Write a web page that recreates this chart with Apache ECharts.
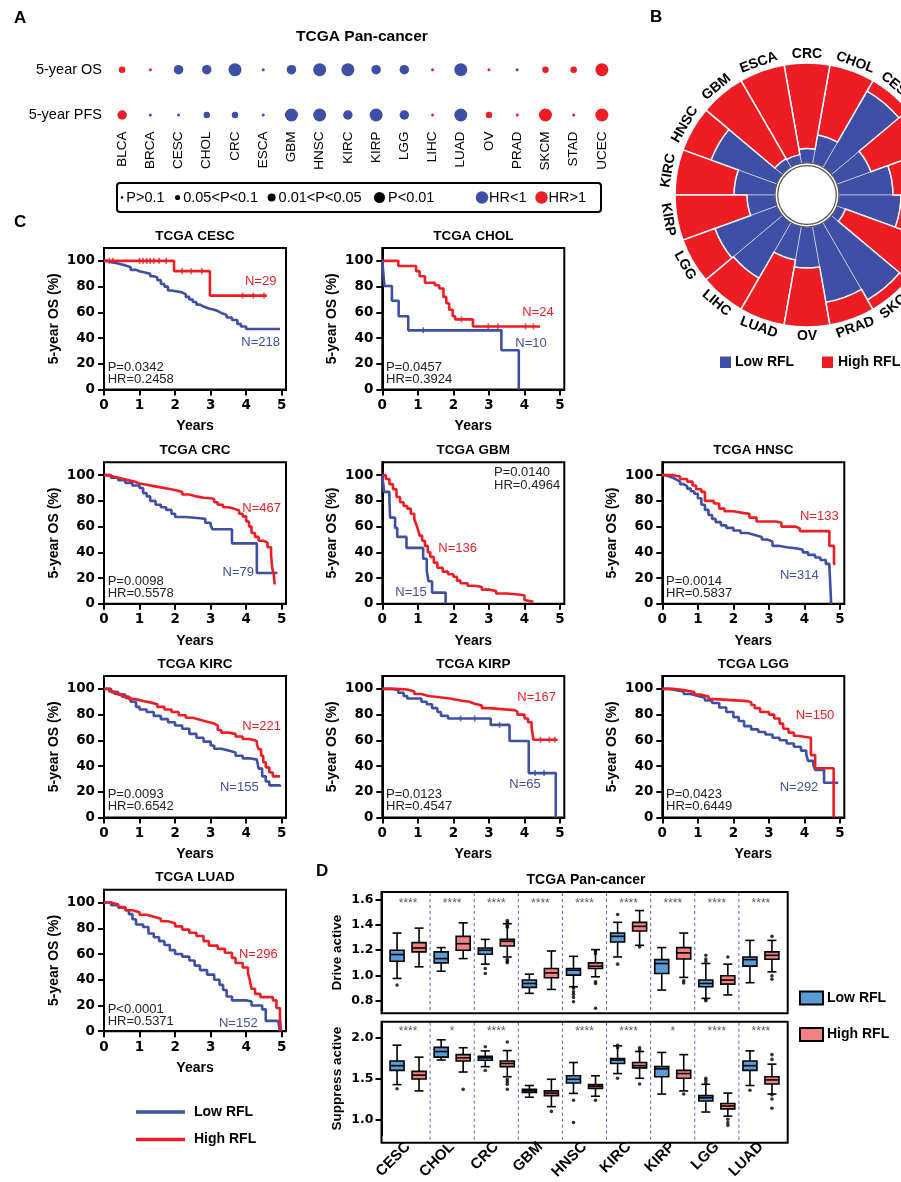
<!DOCTYPE html>
<html><head><meta charset="utf-8">
<script src="https://cdn.jsdelivr.net/npm/echarts@6/dist/echarts.min.js"></script>
<style>html,body{margin:0;padding:0;background:#fff}#c{width:901px;height:1182px}</style>
</head><body><div id="c"></div>
<script>
// ================= DATA =================
// Panel A
const panCancers = ['BLCA','BRCA','CESC','CHOL','CRC','ESCA','GBM','HNSC','KIRC','KIRP','LGG','LIHC','LUAD','OV','PRAD','SKCM','STAD','UCEC'];
const survivalRows = ['5-year PFS','5-year OS'];
// P level: 1 P>0.1, 2 0.05<P<0.1, 3 0.01<P<0.05, 4 P<0.01 ; HR flag: 1 = HR>1, 0 = HR<1
const osPLevel  = [2,1,3,3,4,1,3,4,4,3,3,1,4,1,1,2,2,4];
const osHRHigh  = [1,1,0,0,0,0,0,0,0,0,0,1,0,1,0,1,1,1];
const pfsPLevel = [3,1,1,2,2,1,4,4,3,4,3,1,4,2,1,4,1,4];
const pfsHRHigh = [1,0,0,0,0,0,0,0,0,0,0,1,0,1,1,1,1,1];
const pLevelLabels = ['P>0.1','0.05<P<0.1','0.01<P<0.05','P<0.01'];
const hrLabels = ['HR<1','HR>1'];

// Panel B (share of patients)
const lowRflShare  = [0.54,0.36,0.88,0.29,0.145,0.09,0.10,0.70,0.41,0.28,0.66,0.64,0.34,0.41,0.77,0.89,0.09,0.62];
const highRflShare = [0.46,0.64,0.12,0.71,0.855,0.91,0.90,0.30,0.59,0.72,0.34,0.36,0.66,0.59,0.23,0.11,0.91,0.38];
const groupNames = ['Low RFL','High RFL'];

// Panel C (Kaplan-Meier, [years, survival %])
const kmCancers = ['CESC','CHOL','CRC','GBM','HNSC','KIRC','KIRP','LGG','LUAD'];
const kmLowN  = [218,10,79,15,314,155,65,292,152];
const kmHighN = [29,24,467,136,133,221,167,150,296];
const kmPText  = ['P=0.0342','P=0.0457','P=0.0098','P=0.0140','P=0.0014','P=0.0093','P=0.0123','P=0.0423','P<0.0001'];
const kmHRText = ['HR=0.2458','HR=0.3924','HR=0.5578','HR=0.4964','HR=0.5837','HR=0.6542','HR=0.4547','HR=0.6449','HR=0.5371'];
const kmYTicks = [0,20,40,60,80,100];
const kmXTicks = [0,1,2,3,4,5];

const osLowCESC = [[0,100],[0.1,99],[0.2,98.5],[0.3,97.5],[0.45,96.5],[0.6,95],[0.75,93],[0.9,92],[1.0,91],[1.15,90],[1.3,88],[1.4,87],[1.5,85],[1.6,82],[1.7,80],[1.8,77],[1.9,76],[2.1,75.5],[2.2,74],[2.3,72],[2.4,70],[2.5,68],[2.6,66],[2.7,64.5],[2.8,63],[2.95,62],[3.1,61],[3.2,59.5],[3.3,58],[3.45,56],[3.6,54],[3.75,51],[3.85,49],[4.0,47],[4.95,47]];
const osHighCESC = [[0,100],[1.97,92],[2.98,73],[4.58,73]];
const osLowCHOL = [[0,100],[0.03,90],[0.06,80.5],[0.27,69],[0.46,57],[0.73,46],[3.35,30.5],[3.84,0]];
const osHighCHOL = [[0,100],[0.45,96],[0.95,92],[1.05,88],[1.2,83],[1.48,81],[1.6,78.5],[1.72,72],[1.8,67],[1.88,62],[1.98,57],[2.05,54.5],[2.55,49],[4.44,49]];
const osLowCRC = [[0,100],[0.2,98],[0.4,96],[0.6,94],[0.8,92],[1.0,90],[1.1,86],[1.2,83.5],[1.3,80],[1.45,77],[1.6,75],[1.75,73],[1.9,70],[2.0,67.5],[2.3,66.5],[2.7,66],[2.85,63],[3.0,61],[3.05,58],[3.6,47],[4.3,24],[4.88,24]];
const osHighCRC = [[0,100],[0.1,99],[0.25,98],[0.4,97],[0.55,96],[0.7,95],[0.85,93.5],[1.0,92.5],[1.2,91.5],[1.4,90.5],[1.6,89.5],[1.8,88.5],[2.0,87],[2.2,85],[2.4,83.5],[2.6,82.5],[2.8,82],[3.0,81.5],[3.1,79],[3.2,77],[3.35,75],[3.5,74],[3.65,72.5],[3.8,70],[3.9,68],[4.0,64],[4.08,60],[4.15,55],[4.25,52],[4.35,49],[4.5,47.5],[4.6,44],[4.7,38],[4.73,28],[4.78,22],[4.8,15]];
const osLowGBM = [[0,100],[0.05,87],[0.2,80],[0.22,67],[0.36,59],[0.42,52],[0.68,43.5],[1.15,35],[1.25,26],[1.3,17.5],[1.4,8.7],[1.78,0]];
const osHighGBM = [[0,100],[0.1,97],[0.2,93],[0.3,89],[0.4,83],[0.5,79],[0.6,76],[0.7,74],[0.8,70],[0.9,66],[0.95,62],[1.0,58],[1.05,53],[1.12,49],[1.2,45],[1.28,40],[1.35,36.5],[1.45,32],[1.55,28],[1.7,25],[1.85,23],[2.0,21],[2.1,18],[2.2,16],[2.4,14],[2.6,13],[2.8,11],[3.0,10],[3.2,8],[3.5,7],[3.9,6.5],[4.0,3],[4.05,1.5],[4.25,1.5]];
const osLowHNSC = [[0,100],[0.1,99],[0.2,98],[0.3,96.5],[0.4,95],[0.5,93],[0.6,91.5],[0.7,89.5],[0.8,87.5],[0.9,85.5],[1.0,82],[1.1,77],[1.2,73],[1.3,69],[1.4,66],[1.5,63.5],[1.65,61],[1.8,59],[2.0,57],[2.2,55],[2.4,53.5],[2.6,52],[2.8,50],[2.95,48.5],[3.1,45],[3.3,44],[3.5,43],[3.8,42],[3.95,40],[4.1,38],[4.3,36],[4.45,34],[4.6,31],[4.7,28.5],[4.72,18],[4.75,0]];
const osHighHNSC = [[0,100],[0.3,99],[0.5,97],[0.7,95],[0.85,92],[0.95,89],[1.1,87],[1.2,80],[1.45,78],[1.6,74],[1.75,72],[2.0,70.5],[2.3,70],[2.45,67],[2.65,64],[3.2,63],[3.35,60],[3.75,58.5],[3.87,56.5],[4.7,45],[4.83,31],[4.87,31]];
const osLowKIRC = [[0,100],[0.2,97.5],[0.4,95.5],[0.6,93],[0.75,90],[0.9,86],[1.0,84],[1.2,82],[1.4,79],[1.6,76.5],[1.8,74],[2.0,71.5],[2.2,69],[2.4,65],[2.6,62],[2.8,59],[3.0,56],[3.1,53.5],[3.3,52],[3.5,50.5],[3.7,48],[3.9,46],[4.1,45],[4.3,44],[4.35,38],[4.45,32],[4.55,28],[4.65,25],[4.95,24]];
const osHighKIRC = [[0,100],[0.15,98],[0.3,96],[0.5,94],[0.7,92],[0.9,90.5],[1.1,89.5],[1.3,88],[1.5,86],[1.7,84],[1.9,82],[2.1,79.5],[2.3,77.5],[2.5,76],[2.7,74.5],[2.9,73],[3.1,71.5],[3.2,68],[3.3,66],[3.5,65],[3.7,63],[3.9,61],[4.1,59.5],[4.3,57],[4.35,53],[4.42,48],[4.48,43],[4.55,39],[4.65,35],[4.75,32],[4.95,32]];
const osLowKIRP = [[0,100],[0.3,99],[0.45,97],[0.6,94.5],[0.7,92.5],[1.1,90],[1.25,88],[1.4,85],[1.55,82],[1.65,79],[1.85,77],[3.05,72],[3.58,59.5],[4.12,34.5],[4.88,0]];
const osHighKIRP = [[0,100],[0.4,99.5],[0.7,98],[0.9,96],[1.1,94.5],[1.3,93.5],[1.6,92.5],[1.9,91],[2.2,90],[2.45,88.5],[2.6,87],[2.8,85],[3.0,83.5],[3.7,82.5],[3.8,80],[4.0,77],[4.1,74],[4.2,70],[4.25,60.5],[4.93,60.5]];
const osLowLGG = [[0,100],[0.2,99],[0.4,98],[0.6,96],[0.8,94.5],[1.0,93],[1.2,91],[1.4,89],[1.6,85.5],[1.8,82],[2.0,78],[2.15,75],[2.3,71],[2.5,68.5],[2.7,66.5],[2.9,64.5],[3.1,62],[3.3,60],[3.5,57.5],[3.7,55],[3.9,52],[4.05,49],[4.1,44],[4.25,41],[4.3,37],[4.55,27],[4.95,27]];
const osHighLGG = [[0,100],[0.3,99],[0.6,97.5],[0.9,95.5],[1.1,94],[1.3,92],[1.5,90.5],[2.4,89.5],[2.5,87.5],[2.6,85],[2.75,82],[3.0,80],[3.15,77],[3.3,73],[3.4,69],[3.55,66],[3.7,63.5],[3.8,62],[4.18,48.5],[4.3,38.3],[4.82,0]];
const osLowLUAD = [[0,100],[0.2,98],[0.4,96],[0.6,94],[0.7,91],[0.8,87],[0.9,83],[1.1,81],[1.25,76],[1.4,73],[1.55,70],[1.7,67],[1.85,63],[2.0,60],[2.2,58],[2.4,55],[2.55,51],[2.7,47.5],[2.9,44],[3.1,40],[3.25,36],[3.35,32],[3.45,27],[3.6,24],[4.0,23],[4.15,20],[4.45,17],[4.55,8],[4.9,6.5],[4.95,0]];
const osHighLUAD = [[0,100],[0.2,98.5],[0.4,96.5],[0.6,94],[0.8,92.5],[1.0,90.5],[1.2,89],[1.4,87.5],[1.6,85.5],[1.8,84],[2.0,81.5],[2.2,79],[2.4,76.5],[2.6,74],[2.8,70],[2.95,66.5],[3.2,64],[3.4,61],[3.6,57],[3.7,53],[3.9,49.5],[4.05,45],[4.1,40],[4.15,33],[4.25,29],[4.4,26.5],[4.75,24],[4.85,18],[4.95,10],[4.98,0]];
const kmLowCurves  = [osLowCESC, osLowCHOL, osLowCRC, osLowGBM, osLowHNSC, osLowKIRC, osLowKIRP, osLowLGG, osLowLUAD];
const kmHighCurves = [osHighCESC, osHighCHOL, osHighCRC, osHighGBM, osHighHNSC, osHighKIRC, osHighKIRP, osHighLGG, osHighLUAD];
// censored observations (tick marks) on the sparse curves
const censorHighCESC = [[0.15,100],[0.25,100],[1.0,100],[1.1,100],[1.2,100],[1.3,100],[1.4,100],[1.55,100],[1.75,100],[2.2,92],[2.45,92],[2.75,92],[3.9,73],[4.2,73],[4.5,73]];
const censorHighCHOL = [[2.23,54.5],[2.98,49],[3.25,49],[4.03,49],[4.25,49]];
const censorLowCHOL = [[1.15,46]];
const censorHighKIRP = [[4.45,60.5],[4.7,60.5],[4.85,60.5]];
const censorLowKIRP = [[2.2,77],[2.6,77],[3.3,72],[4.3,34.5],[4.55,34.5]];
const kmLowCensor  = [[], censorLowCHOL, [], [], [], [], censorLowKIRP, [], []];
const kmHighCensor = [censorHighCESC, censorHighCHOL, [], [], [], [], censorHighKIRP, [], []];

// Panel D (box: [min, Q1, median, Q3, max])
const boxCancers = ['CESC','CHOL','CRC','GBM','HNSC','KIRC','KIRP','LGG','LUAD'];
const driveLow = [[0.976,1.112,1.165,1.199,1.335],[1.033,1.099,1.133,1.186,1.22],[1.089,1.167,1.199,1.217,1.285],[0.858,0.905,0.936,0.963,1.01],[0.91,1.002,1.041,1.054,1.151],[1.146,1.264,1.309,1.335,1.42],[0.884,1.015,1.094,1.125,1.22],[0.818,0.91,0.936,0.963,1.094],[0.942,1.073,1.125,1.146,1.277]];
const driveHigh = [[1.068,1.186,1.217,1.259,1.374],[1.133,1.199,1.251,1.309,1.416],[1.146,1.233,1.27,1.285,1.409],[0.889,0.981,1.02,1.054,1.193],[0.989,1.054,1.073,1.099,1.204],[1.238,1.351,1.388,1.42,1.513],[0.984,1.13,1.178,1.22,1.335],[0.845,0.931,0.963,0.997,1.089],[1.028,1.128,1.159,1.186,1.277]];
const suppressLow = [[1.426,1.601,1.659,1.717,1.911],[1.729,1.764,1.833,1.884,1.977],[1.647,1.725,1.756,1.775,1.841],[1.271,1.329,1.349,1.368,1.415],[1.318,1.446,1.492,1.535,1.698],[1.562,1.686,1.729,1.748,1.903],[1.31,1.523,1.62,1.647,1.822],[1.089,1.225,1.264,1.291,1.43],[1.415,1.601,1.659,1.717,1.841]];
const suppressHigh = [[1.349,1.496,1.543,1.589,1.764],[1.581,1.717,1.756,1.795,1.88],[1.523,1.647,1.686,1.717,1.845],[1.155,1.291,1.322,1.349,1.492],[1.283,1.38,1.407,1.426,1.535],[1.504,1.632,1.659,1.698,1.833],[1.349,1.504,1.562,1.601,1.795],[1.039,1.128,1.163,1.194,1.322],[1.31,1.434,1.484,1.523,1.678]];
const driveLowOut = [[0,0.923],[2,1.054],[2,1.015],[4,0.897],[4,0.87],[4,0.85],[4,0.826],[4,0.792],[5,1.482],[5,1.089],[7,1.159],[7,1.13],[7,1.11],[7,0.81],[7,0.8]];
const driveHighOut = [[2,1.435],[2,1.42],[2,1.395],[2,1.382],[2,1.128],[2,1.112],[2,1.1],[4,1.193],[4,1.172],[4,0.95],[4,0.936],[4,0.74],[5,1.225],[6,0.957],[6,0.94],[7,1.146],[8,1.309],[8,0.996],[8,0.97]];
const suppressLowOut = [[0,1.376],[2,1.891],[2,1.6],[4,1.233],[4,0.961],[5,1.91],[5,1.88],[5,1.504],[7,1.504],[7,1.48],[7,1.45],[8,1.357]];
const suppressHighOut = [[1,1.368],[2,1.95],[2,1.49],[2,1.46],[2,1.43],[2,1.37],[3,1.097],[4,1.233],[5,1.88],[5,1.85],[5,1.434],[6,1.31],[7,1.0],[7,0.96],[7,0.925],[8,1.795],[8,1.736],[8,1.3],[8,1.25],[8,1.136]];
const driveStars = ['****','****','****','****','****','****','****','****','****'];
const suppressStars = ['****','*','****','','****','****','*','****','****'];
const driveTicks = [0.8,1.0,1.2,1.4,1.6];
const suppressTicks = [1.0,1.5,2.0];

// ================= STYLE / LAYOUT =================
const FONT = '"Liberation Sans", Arial, Helvetica, sans-serif';
const DJ = '"DejaVu Sans", Verdana, sans-serif';
const BLUE = '#3F4FA6', RED = '#EE1D24';
const BOX_LOW = '#5B9BD8', BOX_HIGH = '#F08283';
const dotSizes = [3, 6.5, 9.5, 13];

const KM_W = 182, KM_H = 141.5;
const kmBox = [[104,248],[382.3,248],[104,462.3],[382.3,462.3],[662.3,462.3],[104,676],[382.3,676],[662.3,676],[104,889.7]];
const kmNHighPos = [[260.7,281.7],[538,312],[261.7,508.3],[457.7,548.3],[819.3,516],[261.7,726.7],[536.7,697.7],[815,715],[258.3,954.3]];
const kmNLowPos  = [[260.7,342.7],[531,343],[238.3,572.7],[411,592.3],[799.3,575],[239.3,787.7],[525,784.3],[799,787.7],[238.3,1023.3]];
const kmPPos = [[107.7,367],[386,367],[107.7,581],[494,472.5],[666,581],[107.7,794],[386,794],[666,794],[107.7,1009]];

const grids = [], xAxes = [], yAxes = [], series = [], G = [];

function txt(x, y, s, o) {
  o = o || {};
  const font = (o.bold ? 'bold ' : '') + (o.size || 13) + 'px ' + (o.family || FONT);
  return { type: 'text', x: x, y: y, rotation: o.rot || 0, z: 100, silent: true,
    style: { text: s, fill: o.color || '#000', font: font,
      textAlign: o.align || 'left', align: o.align || 'left',
      textVerticalAlign: 'middle', verticalAlign: 'middle' } };
}

// ---------- Panel A ----------
grids.push({ left: 108, top: 69.7, width: 508, height: 45.3 });
xAxes.push({ gridIndex: 0, type: 'category', data: panCancers, boundaryGap: true,
  axisLine: { show: false }, axisTick: { show: false }, splitLine: { show: false },
  axisLabel: { rotate: 90, margin: 16.5, fontSize: 13.5, color: '#000', fontFamily: FONT, interval: 0 } });
yAxes.push({ gridIndex: 0, type: 'category', data: survivalRows, boundaryGap: false,
  axisLine: { show: false }, axisTick: { show: false }, splitLine: { show: false },
  axisLabel: { margin: 6, fontSize: 14.5, color: '#000', fontFamily: FONT } });
const dotData = [];
panCancers.forEach((c, i) => {
  dotData.push([i, 0, pfsPLevel[i], pfsHRHigh[i]]);
  dotData.push([i, 1, osPLevel[i], osHRHigh[i]]);
});
series.push({ type: 'scatter', xAxisIndex: 0, yAxisIndex: 0, data: dotData,
  symbolSize: v => dotSizes[v[2] - 1],
  itemStyle: { color: p => (p.data[3] ? RED : BLUE), opacity: 1 } });

G.push(txt(14, 18, 'A', { bold: true, size: 17 }));
G.push(txt(362, 37, 'TCGA Pan-cancer', { bold: true, size: 15.5, align: 'center' }));
G.push({ type: 'rect', shape: { x: 117, y: 183, width: 484, height: 29, r: 3 }, style: { fill: 'none', stroke: '#000', lineWidth: 2 }, z: 100 });
const legDotX = [122, 177.6, 271.6, 379.5];
const legDotR = [1.3, 2.6, 4, 5.5];
pLevelLabels.forEach((s, i) => {
  G.push({ type: 'circle', shape: { cx: legDotX[i], cy: 197.5, r: legDotR[i] }, style: { fill: '#000' }, z: 100 });
  G.push(txt(legDotX[i] + legDotR[i] + 3, 197.5, s, { size: 14.5 }));
});
[[482, BLUE], [541.5, RED]].forEach((d, i) => {
  G.push({ type: 'circle', shape: { cx: d[0], cy: 197.5, r: 6.2 }, style: { fill: d[1] }, z: 100 });
  G.push(txt(d[0] + 7, 197.5, hrLabels[i], { size: 14.5 }));
});

// ---------- Panel B ----------
const polar = { center: [807, 195], radius: [32, 132] };
const angleAxis = { type: 'category', data: panCancers, startAngle: 0, clockwise: false,
  axisLine: { show: false }, axisTick: { show: false }, axisLabel: { show: false }, splitLine: { show: false } };
const radiusAxis = { type: 'value', min: 0, max: 1,
  axisLine: { show: false }, axisTick: { show: false }, axisLabel: { show: false }, splitLine: { show: false } };
series.push({ type: 'bar', coordinateSystem: 'polar', stack: 'rfl', data: lowRflShare, barCategoryGap: '0%',
  itemStyle: { color: BLUE, borderColor: 'rgba(255,255,255,0.6)', borderWidth: 0.8 } });
series.push({ type: 'bar', coordinateSystem: 'polar', stack: 'rfl', data: highRflShare, barCategoryGap: '0%',
  itemStyle: { color: RED, borderColor: '#fff', borderWidth: 1.5 } });
series.push({ type: 'custom', coordinateSystem: 'polar', clip: false, silent: true,
  data: panCancers.map((c, i) => [1.09, i]),
  renderItem: function (params, api) {
    const pt = api.coord([api.value(0), api.value(1)]);
    const cx = params.coordSys.cx, cy = params.coordSys.cy;
    let th = Math.atan2(cy - pt[1], pt[0] - cx) * 180 / Math.PI;
    if (th < 0) th += 360;
    const rot = (th > 0 && th < 180) ? th - 90 : th + 90;
    return { type: 'text', x: pt[0], y: pt[1], rotation: rot * Math.PI / 180,
      style: { text: panCancers[params.dataIndex], fill: '#000', font: 'bold 14px ' + FONT,
        textAlign: 'center', align: 'center', textVerticalAlign: 'middle', verticalAlign: 'middle' } };
  } });
G.push({ type: 'circle', shape: { cx: 807, cy: 195, r: 32 }, style: { fill: '#fff', stroke: '#555', lineWidth: 1.2 }, z: 90 });
G.push({ type: 'circle', shape: { cx: 807, cy: 195, r: 29.3 }, style: { fill: 'none', stroke: '#555', lineWidth: 1.2 }, z: 90 });
G.push(txt(650, 17, 'B', { bold: true, size: 17 }));
G.push({ type: 'rect', shape: { x: 720, y: 356.5, width: 11, height: 11.5 }, style: { fill: BLUE }, z: 100 });
G.push(txt(735, 362.5, groupNames[0], { bold: true, size: 14 }));
G.push({ type: 'rect', shape: { x: 822, y: 356.5, width: 11, height: 11.5 }, style: { fill: RED }, z: 100 });
G.push(txt(838, 362.5, groupNames[1], { bold: true, size: 14 }));

// ---------- Panel C ----------
G.push(txt(14, 222, 'C', { bold: true, size: 17 }));
kmCancers.forEach((c, k) => {
  const gi = 1 + k;
  const b = kmBox[k];
  grids.push({ left: b[0], top: b[1], width: KM_W, height: KM_H, show: true, borderColor: '#000', borderWidth: 2, backgroundColor: 'transparent' });
  xAxes.push({ gridIndex: gi, type: 'value', min: 0, max: 5.12, interval: 1,
    axisLine: { show: true, onZero: false, lineStyle: { color: '#000', width: 2 } },
    axisTick: { show: true, length: 6, lineStyle: { color: '#000', width: 2 }, customValues: kmXTicks },
    axisLabel: { customValues: kmXTicks, fontSize: 13.5, fontWeight: 'bold', color: '#000', fontFamily: DJ, margin: 9 },
    splitLine: { show: false },
    name: 'Years', nameLocation: 'middle', nameGap: 30,
    nameTextStyle: { fontSize: 14, fontWeight: 'bold', color: '#000', fontFamily: FONT } });
  yAxes.push({ gridIndex: gi, type: 'value', min: 0, max: 110, interval: 20,
    axisLine: { show: true, onZero: false, lineStyle: { color: '#000', width: 2 } },
    axisTick: { show: true, length: 6, lineStyle: { color: '#000', width: 2 }, customValues: kmYTicks },
    axisLabel: { customValues: kmYTicks, fontSize: 13.5, fontWeight: 'bold', color: '#000', fontFamily: DJ, margin: 9 },
    splitLine: { show: false },
    name: '5-year OS (%)', nameLocation: 'middle', nameGap: 43, nameRotate: 90,
    nameTextStyle: { fontSize: 14, fontWeight: 'bold', color: '#000', fontFamily: FONT } });
  series.push({ type: 'line', xAxisIndex: gi, yAxisIndex: gi, data: kmLowCurves[k], step: 'end',
    symbol: 'none', lineStyle: { color: BLUE, width: 2.6 }, z: 3 });
  series.push({ type: 'line', xAxisIndex: gi, yAxisIndex: gi, data: kmHighCurves[k], step: 'end',
    symbol: 'none', lineStyle: { color: RED, width: 2.6 }, z: 4 });
  if (kmLowCensor[k].length) series.push({ type: 'scatter', xAxisIndex: gi, yAxisIndex: gi, data: kmLowCensor[k],
    symbol: 'rect', symbolSize: [1.6, 6], itemStyle: { color: BLUE }, z: 3 });
  if (kmHighCensor[k].length) series.push({ type: 'scatter', xAxisIndex: gi, yAxisIndex: gi, data: kmHighCensor[k],
    symbol: 'rect', symbolSize: [1.6, 6], itemStyle: { color: RED }, z: 4 });
  G.push(txt(b[0] + KM_W / 2, b[1] - 12, 'TCGA ' + c, { bold: true, size: 13.5, align: 'center' }));
  G.push(txt(kmNHighPos[k][0], kmNHighPos[k][1], 'N=' + kmHighN[k], { size: 13, color: RED, align: 'center' }));
  G.push(txt(kmNLowPos[k][0], kmNLowPos[k][1], 'N=' + kmLowN[k], { size: 13, color: BLUE, align: 'center' }));
  G.push(txt(kmPPos[k][0], kmPPos[k][1], kmPText[k], { size: 13, color: '#222' }));
  G.push(txt(kmPPos[k][0], kmPPos[k][1] + 12.5, kmHRText[k], { size: 13, color: '#222' }));
});
// KM legend
G.push({ type: 'line', shape: { x1: 136, y1: 1112, x2: 185, y2: 1112 }, style: { stroke: BLUE, lineWidth: 3.5 }, z: 100 });
G.push(txt(194, 1112, groupNames[0], { bold: true, size: 14 }));
G.push({ type: 'line', shape: { x1: 136, y1: 1139.5, x2: 185, y2: 1139.5 }, style: { stroke: RED, lineWidth: 3.5 }, z: 100 });
G.push(txt(194, 1139.5, groupNames[1], { bold: true, size: 14 }));

// ---------- Panel D ----------
const D_LEFT = 386, D_W = 397, FRAME_L = 381.5, FRAME_W = 406.2;
const dPanels = [
  { top: 892, h: 121.3, min: 0.7, max: 1.66, ticks: driveTicks, name: 'Drive active', low: driveLow, high: driveHigh, lowOut: driveLowOut, highOut: driveHighOut, stars: driveStars, starOff: 0.095, labels: false },
  { top: 1021.7, h: 121, min: 0.8, max: 2.2, ticks: suppressTicks, name: 'Suppress active', low: suppressLow, high: suppressHigh, lowOut: suppressLowOut, highOut: suppressHighOut, stars: suppressStars, starOff: 0.125, labels: true }
];
function boxRenderer(offset, fill) {
  return function (params, api) {
    const c = api.value(0);
    const p = [1, 2, 3, 4, 5].map(k => api.coord([c, api.value(k)]));
    const x = p[0][0] + offset, hw = 7, cw = 4.5;
    const ls = { stroke: '#000', lineWidth: 1.6 };
    return { type: 'group', children: [
      { type: 'line', shape: { x1: x, y1: p[4][1], x2: x, y2: p[3][1] }, style: ls },
      { type: 'line', shape: { x1: x, y1: p[1][1], x2: x, y2: p[0][1] }, style: ls },
      { type: 'line', shape: { x1: x - cw, y1: p[4][1], x2: x + cw, y2: p[4][1] }, style: ls },
      { type: 'line', shape: { x1: x - cw, y1: p[0][1], x2: x + cw, y2: p[0][1] }, style: ls },
      { type: 'rect', shape: { x: x - hw, y: p[3][1], width: 2 * hw, height: p[1][1] - p[3][1] }, style: { fill: fill, stroke: '#000', lineWidth: 1.6 } },
      { type: 'line', shape: { x1: x - hw, y1: p[2][1], x2: x + hw, y2: p[2][1] }, style: { stroke: '#000', lineWidth: 1.6 } }
    ] };
  };
}
dPanels.forEach((d, j) => {
  const gi = 10 + j;
  grids.push({ left: D_LEFT, top: d.top, width: D_W, height: d.h });
  xAxes.push({ gridIndex: gi, type: 'category', data: boxCancers, boundaryGap: true,
    axisLine: { show: false }, axisTick: { show: false }, splitLine: { show: false },
    axisLabel: d.labels ? { show: true, rotate: 45, interval: 0, margin: 9, fontSize: 15, fontWeight: 'bold', color: '#000', fontFamily: FONT } : { show: false } });
  yAxes.push({ gridIndex: gi, type: 'value', min: d.min, max: d.max, offset: D_LEFT - FRAME_L,
    axisLine: { show: true, onZero: false, lineStyle: { color: '#000', width: 2 } },
    axisTick: { show: true, length: 6, lineStyle: { color: '#000', width: 2 }, customValues: d.ticks },
    axisLabel: { customValues: d.ticks, formatter: v => v.toFixed(1), fontSize: 12.5, fontWeight: 'bold', color: '#000', fontFamily: DJ, margin: 8 },
    splitLine: { show: false },
    name: d.name, nameLocation: 'middle', nameGap: 37, nameRotate: 90,
    nameTextStyle: { fontSize: 13.5, fontWeight: 'bold', color: '#000', fontFamily: FONT } });
  series.push({ type: 'custom', xAxisIndex: gi, yAxisIndex: gi, renderItem: boxRenderer(-11, BOX_LOW),
    data: d.low.map((v, i) => [i].concat(v)), encode: { x: 0, y: [1, 2, 3, 4, 5] }, z: 3 });
  series.push({ type: 'custom', xAxisIndex: gi, yAxisIndex: gi, renderItem: boxRenderer(11, BOX_HIGH),
    data: d.high.map((v, i) => [i].concat(v)), encode: { x: 0, y: [1, 2, 3, 4, 5] }, z: 3 });
  series.push({ type: 'scatter', xAxisIndex: gi, yAxisIndex: gi, data: d.lowOut, symbolSize: 3.6, symbolOffset: [-11, 0], itemStyle: { color: '#000' }, z: 4 });
  series.push({ type: 'scatter', xAxisIndex: gi, yAxisIndex: gi, data: d.highOut, symbolSize: 3.6, symbolOffset: [11, 0], itemStyle: { color: '#000' }, z: 4 });
  series.push({ type: 'scatter', xAxisIndex: gi, yAxisIndex: gi, symbolSize: 1, itemStyle: { color: 'transparent' },
    data: boxCancers.map((c, i) => [i, d.max - d.starOff]),
    label: { show: true, position: 'inside', formatter: p => d.stars[p.dataIndex], fontSize: 12, color: '#333', fontFamily: FONT }, z: 5 });
  G.push({ type: 'rect', shape: { x: FRAME_L, y: d.top, width: FRAME_W, height: d.h }, style: { fill: 'none', stroke: '#000', lineWidth: 2 }, z: 100 });
  for (let i = 1; i < boxCancers.length; i++) {
    const x = D_LEFT + i * D_W / boxCancers.length;
    G.push({ type: 'line', shape: { x1: x, y1: d.top + 1, x2: x, y2: d.top + d.h - 1 }, style: { stroke: '#5C5CD6', lineWidth: 1, lineDash: [3, 3] }, z: 1 });
  }
});
G.push(txt(316, 871, 'D', { bold: true, size: 17 }));
G.push(txt(586, 880, 'TCGA Pan-cancer', { bold: true, size: 14, align: 'center' }));
G.push({ type: 'rect', shape: { x: 800, y: 991.5, width: 23, height: 13 }, style: { fill: BOX_LOW, stroke: '#000', lineWidth: 2 }, z: 100 });
G.push(txt(827, 998, groupNames[0], { bold: true, size: 14 }));
G.push({ type: 'rect', shape: { x: 800, y: 1028, width: 23, height: 13 }, style: { fill: BOX_HIGH, stroke: '#000', lineWidth: 2 }, z: 100 });
G.push(txt(827, 1034.5, groupNames[1], { bold: true, size: 14 }));

const option = {
  animation: false,
  backgroundColor: '#fff',
  textStyle: { fontFamily: FONT },
  grid: grids, xAxis: xAxes, yAxis: yAxes,
  polar: polar, angleAxis: angleAxis, radiusAxis: radiusAxis,
  series: series,
  graphic: { elements: G }
};
const chart = echarts.init(document.getElementById('c'), null, { renderer: 'canvas' });
chart.setOption(option);
</script></body></html>
